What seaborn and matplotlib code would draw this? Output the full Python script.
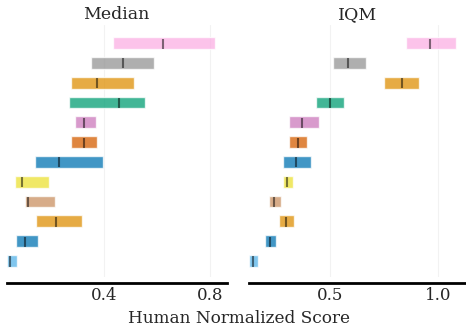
import matplotlib
matplotlib.use("Agg")
import matplotlib.pyplot as plt
import seaborn as sns
import numpy as np

sns.set_style("white")
plt.rcParams["font.family"] = ["DejaVu Serif"]

# Algorithms listed from top row to bottom row
algorithms = ["Alg 1", "Alg 2", "Alg 3", "Alg 4", "Alg 5", "Alg 6",
              "Alg 7", "Alg 8", "Alg 9", "Alg 10", "Alg 11", "Alg 12"]
palette_idx = [6, 7, 1, 2, 4, 3, 0, 8, 5, 1, 0, 9]

median_lo = [0.435, 0.3525, 0.2775, 0.270, 0.2925, 0.2775, 0.1425, 0.0675, 0.105, 0.146, 0.071, 0.0375]
median_hi = [0.8175, 0.589, 0.514, 0.555, 0.371, 0.375, 0.3975, 0.195, 0.2175, 0.319, 0.154, 0.075]
median_pt = [0.621, 0.4725, 0.376, 0.4575, 0.326, 0.325, 0.2325, 0.0925, 0.116, 0.220, 0.105, 0.049]

iqm_lo = [0.850, 0.512, 0.748, 0.434, 0.309, 0.309, 0.281, 0.281, 0.216, 0.262, 0.198, 0.123]
iqm_hi = [1.086, 0.665, 0.910, 0.563, 0.448, 0.392, 0.410, 0.327, 0.272, 0.332, 0.248, 0.165]
iqm_pt = [0.961, 0.582, 0.832, 0.497, 0.369, 0.349, 0.340, 0.299, 0.238, 0.295, 0.219, 0.142]

metrics = ["Median", "IQM"]
xticks = {"Median": [0.4, 0.8], "IQM": [0.5, 1.0]}
xlims = {"Median": (0.036, 0.861), "IQM": (0.122, 1.128)}
data = {"Median": (median_lo, median_hi, median_pt),
        "IQM": (iqm_lo, iqm_hi, iqm_pt)}

pal = sns.color_palette("colorblind")
colors = [pal[i] for i in palette_idx]

fig = plt.figure(figsize=(4.66, 3.28), dpi=100)
ax_rects = {"Median": [0.0144, 0.1555, 0.4721, 0.7683],
            "IQM": [0.5337, 0.1555, 0.4653, 0.7683]}

n = len(algorithms)
h = 0.6
for metric in metrics:
    ax = fig.add_axes(ax_rects[metric])
    lo, hi, pt = data[metric]
    for i, alg in enumerate(algorithms):
        y = n - 1 - i
        ax.barh(y=y, width=hi[i] - lo[i], height=h, left=lo[i],
                color=colors[i], alpha=0.75, label=alg)
        ax.vlines(x=pt[i], ymin=y - 7.5 * h / 16, ymax=y + 6 * h / 16,
                  color="k", alpha=0.5, linewidth=1.5)
    ax.set_xlim(*xlims[metric])
    ax.set_ylim(-0.81, n - 1 + 0.91)
    ax.set_xticks(xticks[metric])
    ax.set_yticks([])
    ax.set_title(metric, fontsize=12.5, pad=4)
    for s in ["right", "top", "left"]:
        ax.spines[s].set_visible(False)
    ax.spines["bottom"].set_linewidth(2)
    ax.spines["bottom"].set_color("black")
    ax.spines["bottom"].set_position(("outward", 4.3))
    ax.tick_params(length=0.1, width=0.1, labelsize=12, pad=2.5)
    ax.grid(True, axis="x", alpha=0.25)
    ax.set_axisbelow(True)

fig.text(0.513, 0.014, "Human Normalized Score", ha="center", fontsize=12.2)
fig.savefig("out.png", dpi=100)
